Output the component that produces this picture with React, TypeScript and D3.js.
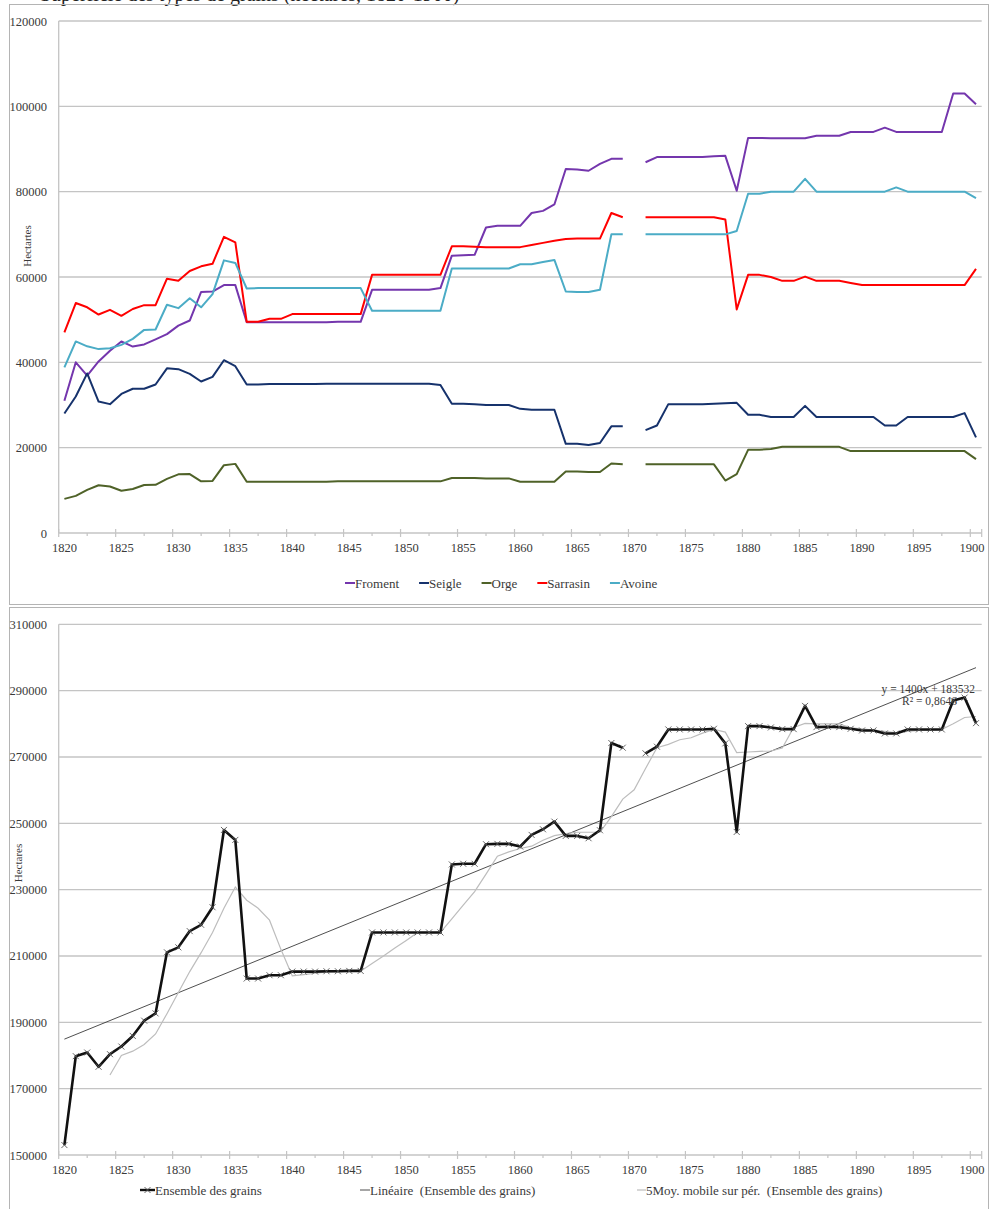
import React, { useEffect, useRef } from "react";
import * as d3 from "d3";

// categories: one per year, 1870 is missing in the source
const years = d3.range(1820, 1901);

// top chart, hectares per grain
const froment = [
  31000, 40000, 36900, 40200, 42700, 44900, 43700, 44200, 45400, 46600,
  48600, 49800, 56500, 56600, 58100, 58100, 49400, 49400, 49400, 49400,
  49400, 49400, 49400, 49400, 49500, 49500, 49500, 57000, 57000, 57000,
  57000, 57000, 57000, 57400, 65000, 65100, 65200, 71600, 72000, 72000,
  72000, 75000, 75500, 77000, 85300, 85200, 84900, 86500, 87700, 87700,
  null, 86900, 88100, 88100, 88100, 88100, 88100, 88300, 88400, 80200,
  92600, 92600, 92500, 92500, 92500, 92500, 93100, 93100, 93100, 94000,
  94000, 94000, 95000, 94000, 94000, 94000, 94000, 94000, 103000, 103000,
  100500,
];
const seigle = [
  28000, 32000, 37400, 30800, 30200, 32600, 33800, 33800, 34800, 38600,
  38400, 37300, 35500, 36600, 40500, 39100, 34800, 34800, 34900, 34900,
  34900, 34900, 34900, 35000, 35000, 35000, 35000, 35000, 35000, 35000,
  35000, 35000, 35000, 34700, 30300, 30300, 30200, 30000, 30000, 30000,
  29100, 28900, 28900, 28900, 20900, 20900, 20600, 21100, 25000, 25000,
  null, 24100, 25200, 30200, 30200, 30200, 30200, 30300, 30400, 30500,
  27700, 27700, 27200, 27200, 27200, 29800, 27200, 27200, 27200, 27200,
  27200, 27200, 25200, 25200, 27200, 27200, 27200, 27200, 27200, 28100,
  22400,
];
const orge = [
  8000, 8700, 10100, 11200, 10900, 9900, 10300, 11250, 11300, 12700,
  13750, 13800, 12100, 12200, 15900, 16200, 12000, 12000, 12000, 12000,
  12000, 12000, 12000, 12000, 12100, 12100, 12100, 12100, 12100, 12100,
  12100, 12100, 12100, 12100, 12900, 12900, 12900, 12800, 12800, 12800,
  12000, 12000, 12000, 12000, 14400, 14400, 14300, 14300, 16300, 16100,
  null, 16100, 16100, 16100, 16100, 16100, 16100, 16100, 12300, 13800,
  19500, 19500, 19700, 20200, 20200, 20200, 20200, 20200, 20200, 19200,
  19200, 19200, 19200, 19200, 19200, 19200, 19200, 19200, 19200, 19200,
  17300,
];
const sarrasin = [
  47000, 53900, 52900, 51200, 52300, 50900, 52500, 53400, 53400, 59600,
  59100, 61400, 62500, 63100, 69400, 68100, 49500, 49500, 50200, 50200,
  51300, 51300, 51300, 51300, 51300, 51300, 51300, 60500, 60500, 60500,
  60500, 60500, 60500, 60500, 67200, 67200, 67100, 67000, 67000, 67000,
  67000, 67500, 68000, 68500, 68900, 69000, 69000, 69000, 75000, 74000,
  null, 74000, 74000, 74000, 74000, 74000, 74000, 74000, 73500, 52400,
  60500, 60500, 60000, 59100, 59100, 60100, 59100, 59100, 59100, 58600,
  58100, 58100, 58100, 58100, 58100, 58100, 58100, 58100, 58100, 58100,
  61900,
];
const avoine = [
  38800, 44900, 43750, 43100, 43300, 44100, 45500, 47600, 47700, 53500,
  52700, 55000, 52900, 56000, 63900, 63300, 57300, 57400, 57400, 57400,
  57400, 57400, 57400, 57400, 57400, 57400, 57400, 52100, 52100, 52100,
  52100, 52100, 52100, 52100, 62000, 62000, 62000, 62000, 62000, 62000,
  63000, 63000, 63500, 64000, 56600, 56500, 56500, 57000, 70000, 70000,
  null, 70000, 70000, 70000, 70000, 70000, 70000, 70000, 70000, 70800,
  79500, 79500, 80000, 80000, 80000, 83000, 80000, 80000, 80000, 80000,
  80000, 80000, 80000, 81000, 80000, 80000, 80000, 80000, 80000, 80000,
  78500,
];

const seriesNames = ["Froment", "Seigle", "Orge", "Sarrasin", "Avoine"];
const seriesColors = ["#7436ad", "#16326c", "#4f6228", "#ff0000", "#4bacc6"];
const seriesValues = [froment, seigle, orge, sarrasin, avoine];

// bottom chart
const ensemble = [
  153000, 179800, 180900, 176600, 180400, 182700, 185900, 190500, 192700, 211100,
  212600, 217500, 219400, 224700, 248000, 245000, 203200, 203200, 204200, 204200,
  205300, 205300, 205300, 205400, 205400, 205500, 205500, 217100, 217100, 217100,
  217100, 217100, 217100, 217100, 237600, 237800, 237800, 243700, 243800, 243800,
  243000, 246500, 248200, 250500, 246200, 246200, 245500, 247900, 274200, 272800,
  null, 271100, 273100, 278300, 278300, 278300, 278300, 278500, 274100, 247400,
  279300, 279300, 278900, 278400, 278400, 285400, 279000, 279100, 279000, 278500,
  278000, 278000, 277100, 277100, 278300, 278300, 278300, 278300, 287000, 287900,
  280200,
];
// 5-period moving average as drawn, starting at 1824
const movingAvgStart = 1824;
const movingAvg = [
  174100, 180000, 181300, 183300, 186500, 192600, 199000, 205300, 211000, 217100,
  224400, 230800, 226800, 224400, 220800, 212000, 204000, 204400, 204800, 205100,
  205300, 205400, 205400, 207700, 210000, 212400, 214700, 217100, 217100, 217100,
  221200, 225300, 229400, 234700, 240100, 241400, 242400, 243100, 244900, 246300,
  246900, 247300, 247300, 247300, 252000, 257300, 260100, 266500, 272800, 273800,
  275200, 275800, 277200, 278300, 277500, 271300, 271500, 271700, 271800, 272700,
  278900, 280100, 280000, 280000, 280000, 278800, 278500, 278100, 277700, 277300,
  277700, 278000, 278000, 278300, 280000, 281900, 282200,
];
// trend label: y = 1400x + 183532, x = category index from 1
const trendSlope = 1400;
const trendIntercept = 183532;
const trendLabel = ["y = 1400x + 183532", "R² = 0,8646"];

const topTicks = [0, 20000, 40000, 60000, 80000, 100000, 120000];
const bottomTicks = [150000, 170000, 190000, 210000, 230000, 250000, 270000, 290000, 310000];
const yearLabels = d3.range(1820, 1901, 5);

const FONT = "'Liberation Serif', 'Times New Roman', serif";
const GRID = "#c4c4c4";
const TXT = "#3a3a3a";

type G = d3.Selection<SVGGElement, unknown, null, undefined>;

const x = d3.scaleLinear().domain([1819.5, 1900.5]).range([58.7, 981.7]);

const drawFrame = (g: G, y: d3.ScaleLinear<number, number>, ticks: number[], title: string, titleY: number, titleX: number) => {
  g.append("g")
    .selectAll("line")
    .data(ticks)
    .join("line")
    .attr("x1", x.range()[0])
    .attr("x2", x.range()[1])
    .attr("y1", (d) => y(d))
    .attr("y2", (d) => y(d))
    .attr("stroke", GRID)
    .attr("stroke-width", 1.3);

  g.append("g")
    .selectAll("text")
    .data(ticks)
    .join("text")
    .attr("x", 47)
    .attr("y", (d) => y(d) + 4.5)
    .attr("text-anchor", "end")
    .attr("font-size", 12.5)
    .attr("fill", TXT)
    .text((d) => d);

  const y0 = y(ticks[0]);
  g.append("line")
    .attr("x1", x.range()[0]).attr("x2", x.range()[0])
    .attr("y1", y(ticks[ticks.length - 1])).attr("y2", y0)
    .attr("stroke", GRID).attr("stroke-width", 1.3);

  // major ticks on category edges every 5 years, minor ones half way
  const major = d3.range(1820, 1901, 5).map((d) => x(d - 0.5));
  major.push(x.range()[1]);
  g.append("g")
    .selectAll("line")
    .data(major)
    .join("line")
    .attr("x1", (d) => d).attr("x2", (d) => d)
    .attr("y1", y0 - 4).attr("y2", y0 + 4)
    .attr("stroke", GRID).attr("stroke-width", 1.2);
  g.append("g")
    .selectAll("line")
    .data(d3.range(1820, 1900, 5).map((d) => x(d + 2)))
    .join("line")
    .attr("x1", (d) => d).attr("x2", (d) => d)
    .attr("y1", y0).attr("y2", y0 + 3)
    .attr("stroke", GRID).attr("stroke-width", 1.2);

  g.append("g")
    .selectAll("text")
    .data(yearLabels)
    .join("text")
    .attr("x", (d) => Math.min(x(d), 972))
    .attr("y", y0 + 18.5)
    .attr("text-anchor", "middle")
    .attr("font-size", 12.5)
    .attr("fill", TXT)
    .text((d) => d);

  g.append("text")
    .attr("transform", `translate(${titleX},${titleY}) rotate(-90)`)
    .attr("text-anchor", "middle")
    .attr("font-size", 11)
    .attr("fill", TXT)
    .text(title);
};

const App = () => {
  const ref = useRef<SVGSVGElement>(null);

  useEffect(() => {
    if (!ref.current) return;
    const svg = d3.select(ref.current);
    svg.selectAll("*").remove();
    svg.style("font-family", FONT);

    svg.append("rect").attr("width", 991).attr("height", 1209).attr("fill", "#fff");

    // title, cut off by the top edge of the page as in the source
    svg.append("text")
      .attr("x", 40)
      .attr("y", 0.5)
      .attr("font-size", 20)
      .attr("fill", "#222")
      .text("Superficie des types de grains (hectares, 1820-1900)");

    // chart frames
    svg.append("rect")
      .attr("x", 9.5).attr("y", 4.5).attr("width", 979).attr("height", 600)
      .attr("fill", "none").attr("stroke", "#b4b4b4");
    svg.append("rect")
      .attr("x", 9.5).attr("y", 607.5).attr("width", 979).attr("height", 640)
      .attr("fill", "none").attr("stroke", "#b4b4b4");

    // ---------- top chart ----------
    const top = svg.append("g");
    const yTop = d3.scaleLinear().domain([0, 120000]).range([533, 21]);
    drawFrame(top, yTop, topTicks, "Hectartes", 246, 31);

    const lineTop = d3
      .line<number | null>()
      .defined((d) => d != null)
      .x((_, i) => x(years[i]))
      .y((d) => yTop(d as number));

    top.append("g")
      .selectAll("path")
      .data(seriesValues)
      .join("path")
      .attr("d", (d) => lineTop(d))
      .attr("fill", "none")
      .attr("stroke", (_, i) => seriesColors[i])
      .attr("stroke-width", 2)
      .attr("stroke-linejoin", "round");

    const legTop = top.append("g");
    let lx = 345;
    seriesNames.forEach((name, i) => {
      legTop.append("line")
        .attr("x1", lx).attr("x2", lx + 10)
        .attr("y1", 583).attr("y2", 583)
        .attr("stroke", seriesColors[i]).attr("stroke-width", 2);
      const t = legTop.append("text")
        .attr("x", lx + 10).attr("y", 587.5)
        .attr("font-size", 13).attr("fill", TXT)
        .text(name);
      const w = (t.node() as SVGTextElement).getComputedTextLength();
      lx += 10 + w + 20;
    });

    // ---------- bottom chart ----------
    const bot = svg.append("g");
    const yBot = d3.scaleLinear().domain([150000, 310000]).range([1155, 624.3]);
    drawFrame(bot, yBot, bottomTicks, "Hectares", 863, 21.5);

    // linear trend
    bot.append("line")
      .attr("x1", x(1820)).attr("x2", x(1900))
      .attr("y1", yBot(trendSlope * 1 + trendIntercept))
      .attr("y2", yBot(trendSlope * 81 + trendIntercept))
      .attr("stroke", "#222").attr("stroke-width", 0.8);

    // moving average
    const lineMa = d3
      .line<number>()
      .x((_, i) => x(movingAvgStart + i))
      .y((d) => yBot(d));
    bot.append("path")
      .attr("d", lineMa(movingAvg))
      .attr("fill", "none")
      .attr("stroke", "#bdbdbd")
      .attr("stroke-width", 1.2);

    const lineBot = d3
      .line<number | null>()
      .defined((d) => d != null)
      .x((_, i) => x(years[i]))
      .y((d) => yBot(d as number));
    bot.append("path")
      .attr("d", lineBot(ensemble))
      .attr("fill", "none")
      .attr("stroke", "#111")
      .attr("stroke-width", 2.6)
      .attr("stroke-linejoin", "round");

    const cross = (sel: G, cx: number, cy: number) => {
      sel.append("path")
        .attr("d", `M${cx - 3},${cy - 3}L${cx + 3},${cy + 3}M${cx - 3},${cy + 3}L${cx + 3},${cy - 3}`)
        .attr("stroke", "#555")
        .attr("stroke-width", 0.9);
    };
    const marks = bot.append("g");
    ensemble.forEach((v, i) => {
      if (v != null) cross(marks, x(years[i]), yBot(v));
    });

    bot.append("text")
      .attr("x", 975).attr("y", 693)
      .attr("text-anchor", "end").attr("font-size", 11.5).attr("fill", TXT)
      .text(trendLabel[0]);
    bot.append("text")
      .attr("x", 957).attr("y", 705)
      .attr("text-anchor", "end").attr("font-size", 11.5).attr("fill", TXT)
      .text(trendLabel[1]);

    // bottom legend
    const legY = 1190;
    const leg = bot.append("g");
    leg.append("line").attr("x1", 140).attr("x2", 155).attr("y1", legY).attr("y2", legY)
      .attr("stroke", "#111").attr("stroke-width", 2.4);
    cross(leg, 147.5, legY);
    leg.append("text").attr("x", 155).attr("y", legY + 4.5).attr("font-size", 13).attr("fill", TXT)
      .text("Ensemble des grains");
    leg.append("line").attr("x1", 360).attr("x2", 370).attr("y1", legY).attr("y2", legY)
      .attr("stroke", "#222").attr("stroke-width", 0.8);
    leg.append("text").attr("x", 370).attr("y", legY + 4.5).attr("font-size", 13).attr("fill", TXT)
      .style("white-space", "pre")
      .text("Linéaire  (Ensemble des grains)");
    leg.append("line").attr("x1", 637).attr("x2", 646).attr("y1", legY).attr("y2", legY)
      .attr("stroke", "#bdbdbd").attr("stroke-width", 1.2);
    leg.append("text").attr("x", 646).attr("y", legY + 4.5).attr("font-size", 13).attr("fill", TXT)
      .style("white-space", "pre")
      .text("5Moy. mobile sur pér.  (Ensemble des grains)");
  }, []);

  return (
    <svg
      ref={ref}
      width={991}
      height={1209}
      style={{ position: "absolute", left: 0, top: 0, display: "block" }}
    />
  );
};

export default App;
